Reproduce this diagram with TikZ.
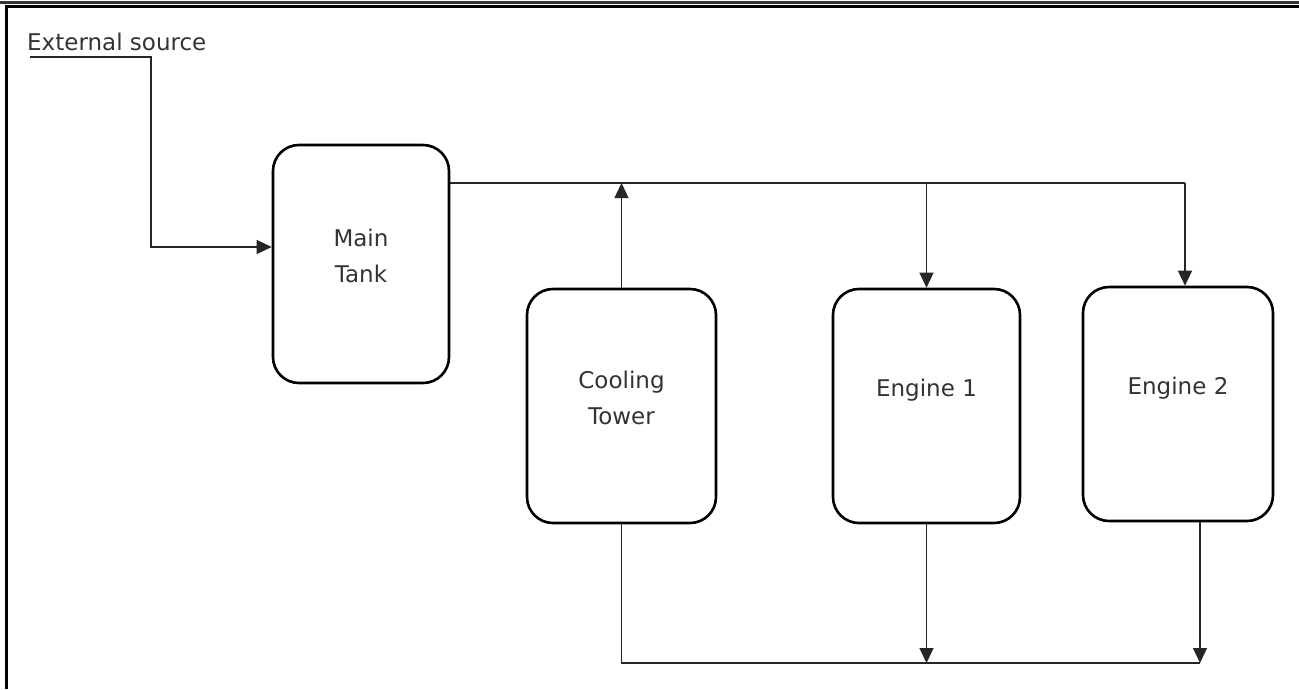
\documentclass[tikz,border=0pt]{standalone}
\usepackage{fontspec}
\setmainfont{DejaVu Sans}
\usepackage{tikz}
\usetikzlibrary{arrows.meta}
\usetikzlibrary{shapes,positioning,calc}

\tikzset{
  unit/.style={draw=black, line width=2.6pt, rounded corners=26pt, fill=white},
  unitname/.style={align=center, text=black!80, font=\fontsize{23}{36}\selectfont, inner sep=0pt},
  pipe/.style={draw=black!85, line width=1.3pt},
  flow/.style={pipe, -{Triangle[length=15pt,width=14pt]}}
}

\begin{document}
\begin{tikzpicture}[x=1pt, y=-1pt]
			\useasboundingbox (0,0) rectangle (1299,689);
			% frame
			\draw[black!80, line width=2.2pt] (0,2.5) -- (1299,2.5);
			\draw[black, line width=3pt] (6.5,6.8) -- (1299,6.8);
			\draw[black, line width=3pt] (6.5,5.3) -- (6.5,689);
			% units
			\node[unit, minimum width=176pt, minimum height=238pt] (tank) at (361,264) {};
			\node[unit, minimum width=189pt, minimum height=234pt] (cool) at (621.5,406) {};
			\node[unit, minimum width=187pt, minimum height=234pt] (eng1) at (926.5,406) {};
			\node[unit, minimum width=190pt, minimum height=234pt] (eng2) at (1178,404) {};
			\node[unitname] (tanklbl) at ([yshift=8pt]tank.center) {Main\\Tank};
			\node[unitname] (coollbl) at ([yshift=8pt]cool.center) {Cooling\\Tower};
			\node[unitname] (eng1lbl) at ([yshift=16pt]eng1.center) {Engine 1};
			\node[unitname] (eng2lbl) at ([yshift=16pt]eng2.center) {Engine 2};
			\node[unitname, anchor=base west] (srclbl) at (27,50) {External source};
			% pipes
			\coordinate (src) at (30,57);
			\coordinate (supply) at ([yshift=81pt]tank.east);
			\coordinate (ret) at (621.5,663);
			\draw[flow] (src) -- (151,57) |- ([yshift=17pt]tank.west);
			\draw[pipe] (supply) -- ($(supply -| eng2.north)+(7,0)$);
			\draw[flow] ($(supply -| eng2.north)+(7,0)$) -- ([xshift=7pt]eng2.north);
			\draw[flow] (eng1.north |- supply) -- (eng1.north);
			\draw[flow] (cool.north) -- (cool.north |- supply);
			\draw[pipe] (cool.south) -- (ret) -- ($(ret -| eng2.south)+(22,0)$);
			\draw[flow] (eng1.south) -- (eng1.south |- ret);
			\draw[flow] ([xshift=22pt]eng2.south) -- ($(ret -| eng2.south)+(22,0)$);
		\end{tikzpicture}
\end{document}
